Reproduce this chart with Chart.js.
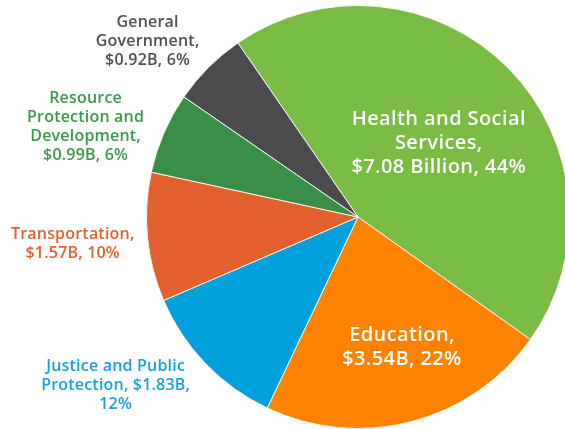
<!DOCTYPE html>
<html>
<head>
<meta charset="utf-8">
<script src="https://cdn.jsdelivr.net/npm/chart.js@4/dist/chart.umd.min.js"></script>
<style>
  html, body { margin: 0; padding: 0; background: #fff; overflow: hidden; }
  #wrap { position: relative; width: 716px; height: 429px; }
</style>
</head>
<body>
<div id="wrap"><canvas id="pie"></canvas></div>
<script>
// budget split, billions
const categories = [
  "Health and Social Services",
  "Education",
  "Justice and Public Protection",
  "Transportation",
  "Resource Protection and Development",
  "General Government"
];
const amounts = [7.08, 3.54, 1.83, 1.57, 0.99, 0.92];
const percents = [44, 22, 12, 10, 6, 6];
const labelLines = [
  ["Health and Social", "Services,", "$7.08 Billion, 44%"],
  ["Education,", "$3.54B, 22%"],
  ["Justice and Public", "Protection, $1.83B,", "12%"],
  ["Transportation,", "$1.57B, 10%"],
  ["Resource", "Protection and", "Development,", "$0.99B, 6%"],
  ["General", "Government,", "$0.92B, 6%"]
];

const sliceColors = ["#78bc43", "#ff8300", "#00a0dd", "#e3602f", "#3a8d45", "#4b4b4d"];
const textColors = ["#ffffff", "#ffffff", "#17a2dc", "#e3602f", "#3e964b", "#4f4f51"];
// label block centre, as a fraction of the radius from the pie centre
const labelOffsets = [
  [0.382, -0.349], [0.208, 0.618], [-1.146, 0.797],
  [-1.349, 0.125], [-1.288, -0.427], [-0.995, -0.830]
];

const sliceLabels = {
  id: "sliceLabels",
  afterDatasetsDraw(chart) {
    const meta = chart.getDatasetMeta(0);
    const arc = meta.data[0];
    const cx = arc.x, cy = arc.y, r = arc.outerRadius;
    const c = chart.ctx;
    c.save();
    c.textAlign = "center";
    c.textBaseline = "middle";
    labelLines.forEach((lines, i) => {
      const inside = i < 2;
      const size = inside ? 20 : 16;
      const lh = inside ? 24 : 19;
      c.font = "600 " + size + "px 'Open Sans', sans-serif";
      c.letterSpacing = inside ? "0.4px" : "0.2px";
      c.fillStyle = textColors[i];
      const x = cx + labelOffsets[i][0] * r;
      const y0 = cy + labelOffsets[i][1] * r - (lines.length - 1) * lh / 2;
      lines.forEach((t, k) => c.fillText(t, x, y0 + k * lh));
    });
    c.restore();
  }
};

new Chart(document.getElementById("pie"), {
  type: "pie",
  data: {
    labels: categories,
    datasets: [{
      data: amounts,
      backgroundColor: sliceColors,
      borderColor: "#f4f4f4",
      borderWidth: 1
    }]
  },
  options: {
    responsive: true,
    maintainAspectRatio: false,
    animation: false,
    rotation: -34.6,
    layout: { padding: { top: 5, bottom: 0, left: 0, right: 0 } },
    plugins: { legend: { display: false }, tooltip: { enabled: false } }
  },
  plugins: [sliceLabels]
});
</script>
</body>
</html>
